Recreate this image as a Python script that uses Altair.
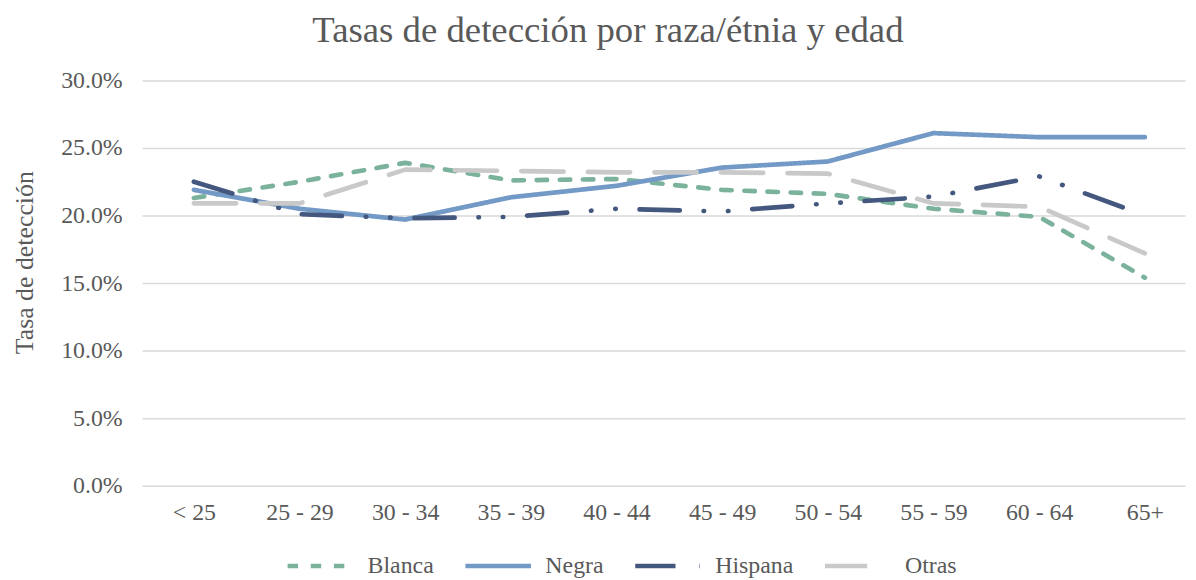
import altair as alt
import pandas as pd

edades = ["< 25", "25 - 29", "30 - 34", "35 - 39", "40 - 44",
          "45 - 49", "50 - 54", "55 - 59", "60 - 64", "65+"]
grupos = ["Blanca", "Negra", "Hispana", "Otras"]

blanca = [21.3, 22.5, 23.9, 22.6, 22.7, 21.9, 21.6, 20.5, 19.9, 15.4]
negra = [21.9, 20.5, 19.7, 21.35, 22.2, 23.55, 24.0, 26.1, 25.8, 25.8]
hispana = [22.5, 20.1, 19.8, 19.9, 20.5, 20.3, 20.9, 21.4, 22.9, 20.0]
otras = [20.9, 20.9, 23.4, 23.3, 23.2, 23.2, 23.1, 20.9, 20.65, 17.2]

y_ticks = [0, 0.05, 0.10, 0.15, 0.20, 0.25, 0.30]

colores = ["#7AB29B", "#7399C6", "#44577E", "#C9C9C9"]
guiones = [[10.5, 12.8], [1, 0], [40.5, 24, 0.5, 24, 0.5, 24], [42.5, 24.5]]

series = {"Blanca": blanca, "Negra": negra, "Hispana": hispana, "Otras": otras}
rows = []
for g in grupos:
    for i, (e, v) in enumerate(zip(edades, series[g])):
        rows.append({"idx": i, "edad": e, "grupo": g, "valor": v / 100})
df = pd.DataFrame(rows)

FONT = "Liberation Serif"
GRAY = "#595959"

label_expr = "[" + ",".join("'" + e + "'" for e in edades) + "][datum.value]"

leyenda = alt.Legend(
    orient="none", legendX=144, legendY=453, direction="horizontal",
    title=None, symbolType="stroke", symbolSize=4356, symbolStrokeWidth=4.5,
    labelFontSize=24, labelFont=FONT, labelColor=GRAY,
    columnPadding=22, labelOffset=12, padding=0,
)

chart = alt.Chart(df).mark_line(
    strokeWidth=4.7, strokeCap="round", strokeJoin="round"
).encode(
    x=alt.X("idx:Q",
            scale=alt.Scale(domain=[-0.49, 9.38], nice=False, zero=False),
            axis=alt.Axis(values=list(range(len(edades))), labelExpr=label_expr,
                          title=None, grid=False, ticks=False, domain=False,
                          labelFont=FONT, labelFontSize=24, labelColor=GRAY,
                          labelPadding=15, labelFlush=False)),
    y=alt.Y("valor:Q",
            scale=alt.Scale(domain=[0, 0.30], nice=False),
            axis=alt.Axis(values=y_ticks, format=".1%", title="Tasa de detección",
                          grid=True, gridColor="#D9D9D9", gridWidth=1.5,
                          ticks=False, domain=False,
                          labelFont=FONT, labelFontSize=24, labelColor=GRAY,
                          labelPadding=20,
                          titleFont=FONT, titleFontSize=26, titleColor=GRAY,
                          titleFontWeight="normal", titleX=-110, titleY=183,
                          titleBaseline="alphabetic")),
    color=alt.Color("grupo:N", scale=alt.Scale(domain=grupos, range=colores),
                    sort=grupos, legend=leyenda),
    strokeDash=alt.StrokeDash("grupo:N", scale=alt.Scale(domain=grupos, range=guiones),
                              sort=grupos, legend=leyenda),
    order=alt.Order("idx:Q"),
).properties(
    width=1050, height=408,
    autosize=alt.AutoSizeParams(type="none"),
    padding={"left": 135, "top": 71, "right": 3, "bottom": 93},
    title=alt.TitleParams("Tasas de detección por raza/étnia y edad",
                          font=FONT, fontSize=37, fontWeight="normal",
                          color=GRAY, anchor="middle", dx=-56, offset=19),
).configure_view(stroke=None)

chart.save("out.html", embed_options={"renderer": "svg", "actions": False})
